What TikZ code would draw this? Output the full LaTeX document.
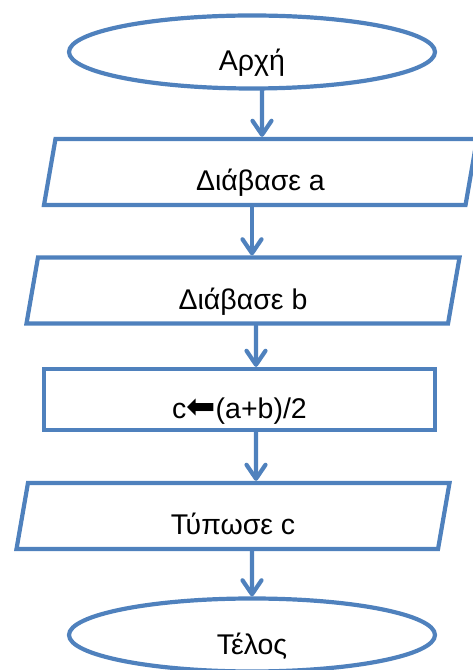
\documentclass[tikz,border=0pt]{standalone}
\usepackage{fontspec}
\setmainfont{Liberation Sans}
\newfontfamily\arrowfont{DejaVu Sans}
\usetikzlibrary{arrows.meta, shapes.geometric, positioning}
\definecolor{flowblue}{RGB}{79,129,189}

\begin{document}
\begin{tikzpicture}[
    x=1pt, y=1pt,
    every node/.style={
        draw=flowblue, line width=4.2pt, font=\fontsize{28.5}{34}\selectfont,
        text height=40pt, text depth=2pt, inner sep=2pt
    },
    terminal/.style={ellipse, minimum width=366pt, minimum height=73pt},
    io/.style={trapezium, trapezium left angle=76, trapezium right angle=104,
        trapezium stretches body, minimum width=433pt, minimum height=66pt},
    process/.style={rectangle, minimum width=391pt, minimum height=61pt},
    edge/.style={-{Straight Barb[length=14pt, width=19pt, round]}, draw=flowblue,
        line width=4.2pt, line cap=round},
]
\useasboundingbox (0,0) rectangle (472,670);

% Start / end
\node[terminal] (start) at (252,618) {Αρχή};
\node[terminal] (stop) at (252,35) {Τέλος};

% Input, process, output
\node[io] (reada) at (260.5,498) {Διάβασε a};
\node[io] (readb) at (243,379.5) {Διάβασε b};
\node[process] (calc) at (239.5,270.5)
    {c{\arrowfont\fontsize{35}{34}\selectfont ⬅}(a+b)/2};
\node[io] (printc) at (233,154) {Τύπωσε c};

% Edges
\draw[edge] ([xshift=10pt]start.south) -- ([xshift=1.5pt]reada.north);
\draw[edge] ([xshift=-8.5pt]reada.south) -- ([xshift=9pt]readb.north);
\draw[edge] ([xshift=13pt]readb.south) -- ([xshift=16.5pt]calc.north);
\draw[edge] ([xshift=16.5pt]calc.south) -- ([xshift=23pt]printc.north);
\draw[edge] ([xshift=19pt]printc.south) -- (stop.north);
\end{tikzpicture}
\end{document}
